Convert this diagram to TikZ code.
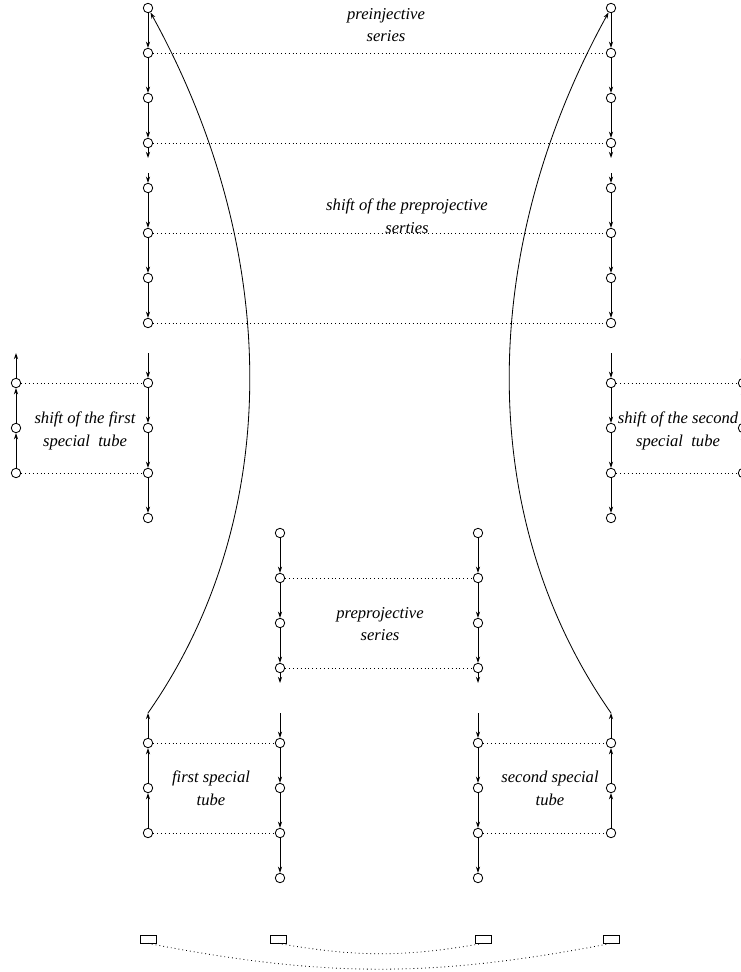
\documentclass[tikz,border=0pt]{standalone}
\usepackage{fontspec}
\setmainfont{Liberation Serif}
\usetikzlibrary{arrows.meta}
\begin{document}
\begin{tikzpicture}[x=0.0254cm,y=-0.0254cm,line width=0.6pt,
    vx/.style={circle,draw,inner sep=0pt,minimum width=2.4mm,minimum height=2.1mm},
    arr/.style={-{Stealth[length=4.5pt,width=3pt]}},
    dots/.style={dash pattern=on 0.6pt off 2.2pt},
    box/.style={draw,inner sep=0pt,minimum width=4.1mm,minimum height=2mm},
    lbl/.style={font=\large\itshape,align=center}]
    \useasboundingbox (0,0) rectangle (741,972);
    %% long columns on the left and right
    \foreach \col/\x in {a/148,b/611}{
        \foreach \i/\y in {1/8,2/53,3/98,4/143,5/188,6/233,7/278,8/323,9/383,10/428,11/473,12/518}
            \node[vx] (\col\i) at (\x,\y) {};
        \coordinate (\col4s) at (\x,158);
        \coordinate (\col5s) at (\x,173);
        \coordinate (\col9s) at (\x,353);
        \foreach \i/\j in {1/2,2/3,3/4,5/6,6/7,7/8,9/10,10/11,11/12}
            \draw[arr] (\col\i) -- (\col\j);
        \draw[arr] (\col4) -- (\col4s);
        \draw[arr] (\col5s) -- (\col5);
        \draw[arr] (\col9s) -- (\col9);
    }
    %% outer columns (shifted tubes)
    \foreach \col/\x in {d/16,e/743}{
        \foreach \i/\y in {1/383,2/428,3/473}
            \node[vx] (\col\i) at (\x,\y) {};
        \coordinate (\col0) at (\x,353);
        \foreach \i/\j in {3/2,2/1,1/0}
            \draw[arr] (\col\i) -- (\col\j);
    }
    %% middle columns
    \foreach \col/\x in {f/280,g/478}{
        \foreach \i/\y in {1/533,2/578,3/623,4/668,5/743,6/788,7/833,8/878}
            \node[vx] (\col\i) at (\x,\y) {};
        \coordinate (\col4s) at (\x,683);
        \coordinate (\col5s) at (\x,713);
        \foreach \i/\j in {1/2,2/3,3/4,5/6,6/7,7/8}
            \draw[arr] (\col\i) -- (\col\j);
        \draw[arr] (\col4) -- (\col4s);
        \draw[arr] (\col5s) -- (\col5);
    }
    %% special tubes at the bottom
    \foreach \col/\x in {h/148,k/611}{
        \foreach \i/\y in {1/743,2/788,3/833}
            \node[vx] (\col\i) at (\x,\y) {};
        \coordinate (\col0) at (\x,713);
        \foreach \i/\j in {3/2,2/1,1/0}
            \draw[arr] (\col\i) -- (\col\j);
    }
    %% long curves
    \draw[arr] (h0) .. controls (283,520) and (283,253) .. (a1);
    \draw[arr] (k0) .. controls (476,520) and (476,253) .. (b1);
    %% dotted rungs
    \foreach \i in {2,4,6,8}
        \draw[dots] (a\i) -- (b\i);
    \foreach \i/\j in {1/9,3/11}{
        \draw[dots] (d\i) -- (a\j);
        \draw[dots] (b\j) -- (e\i);
    }
    \foreach \i in {2,4}
        \draw[dots] (f\i) -- (g\i);
    \foreach \i/\j in {1/5,3/7}{
        \draw[dots] (h\i) -- (f\j);
        \draw[dots] (g\j) -- (k\i);
    }
    %% boxes at the bottom
    \foreach \i/\x in {1/148,2/278,3/483,4/611}
        \node[box] (r\i) at (\x,939) {};
    \draw[dots] (r1.south) to[bend right=11] (r4.south);
    \draw[dots] (r2.south) to[bend right=10] (r3.south);
    %% labels
    \node[lbl] (preinj) at (386,25) {preinjective\\[2.5pt] series};
    \node[lbl] (shpreproj) at (407,216) {shift of the preprojective\\[2.5pt] serties};
    \node[lbl] (shfirst) at (85,431) {shift of the first\\[2.5pt] special\ \ tube};
    \node[lbl] (shsecond) at (678,431) {shift of the second\\[2.5pt] special\ \ tube};
    \node[lbl] (preproj) at (380,624) {preprojective\\[2.5pt] series};
    \node[lbl] (first) at (211,788) {first special\\[2.5pt] tube};
    \node[lbl] (second) at (550,788) {second special\\[2.5pt] tube};
\end{tikzpicture}
\end{document}
